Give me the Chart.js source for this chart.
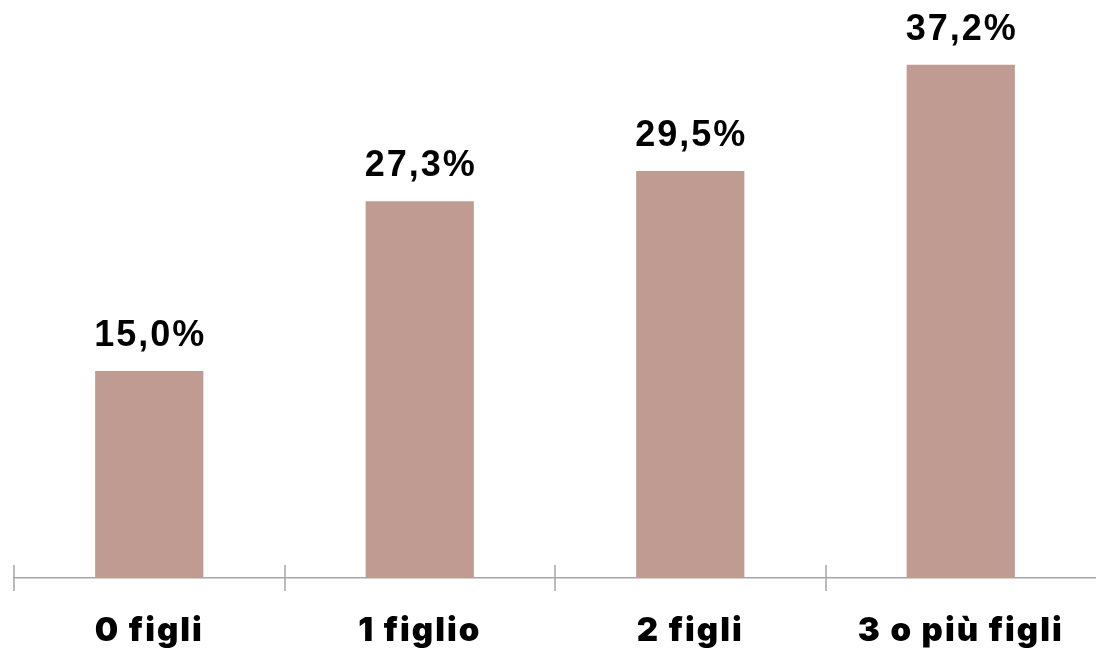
<!DOCTYPE html>
<html>
<head>
<meta charset="utf-8">
<script src="https://cdn.jsdelivr.net/npm/chart.js@4"></script>
<style>
  html, body { margin: 0; padding: 0; background: #fff; }
  #wrap { width: 1096px; height: 652px; }
</style>
</head>
<body>
<div id="wrap"><canvas id="figliChart"></canvas></div>
<script>
// Data
const categories = ['0 figli', '1 figlio', '2 figli', '3 o più figli'];
const percentValues = [15.0, 27.3, 29.5, 37.2];

// Wider letter spacing for the category labels
const spacing = {
  id: 'spacing',
  beforeDraw(chart) { chart.ctx.letterSpacing = '2px'; },
  afterDraw(chart) { chart.ctx.letterSpacing = '0px'; }
};

// Value labels above the bars
const valueLabels = {
  id: 'valueLabels',
  afterDatasetsDraw(chart) {
    const ctx = chart.ctx;
    const meta = chart.getDatasetMeta(0);
    ctx.save();
    ctx.fillStyle = '#000';
    ctx.font = 'bold 36px "Liberation Sans", Arial, sans-serif';
    ctx.letterSpacing = '2px';
    ctx.textAlign = 'center';
    ctx.textBaseline = 'alphabetic';
    meta.data.forEach((bar, i) => {
      const txt = percentValues[i].toFixed(1).replace('.', ',') + '%';
      ctx.fillText(txt, bar.x + 1, bar.y - 25);
    });
    ctx.restore();
  }
};

// Tick marks crossing the axis at category boundaries
const crossTicks = {
  id: 'crossTicks',
  afterDraw(chart) {
    const x = chart.scales.x;
    const ctx = chart.ctx;
    const half = (x.getPixelForValue(1) - x.getPixelForValue(0)) / 2;
    ctx.save();
    ctx.strokeStyle = '#a6a6a6';
    ctx.lineWidth = 1.5;
    for (let i = 0; i < categories.length; i++) {
      const px = Math.round(x.getPixelForValue(i) - half);
      ctx.beginPath();
      ctx.moveTo(px, x.top - 13);
      ctx.lineTo(px, x.top + 13);
      ctx.stroke();
    }
    ctx.restore();
  }
};

new Chart(document.getElementById('figliChart'), {
  type: 'bar',
  data: {
    labels: categories,
    datasets: [{
      data: percentValues,
      backgroundColor: '#c09b91',
      borderWidth: 0,
      categoryPercentage: 0.4,
      barPercentage: 1.0
    }]
  },
  options: {
    responsive: true,
    maintainAspectRatio: false,
    animation: false,
    plugins: {
      legend: { display: false },
      tooltip: { enabled: false }
    },
    layout: {
      padding: { left: 14, right: -2, top: 26, bottom: 0 }
    },
    scales: {
      x: {
        offset: true,
        grid: { display: false },
        border: { display: true, color: '#a6a6a6', width: 1.5 },
        ticks: {
          color: '#000',
          padding: 25,
          maxRotation: 0,
          autoSkip: false,
          font: { family: 'Inter', weight: 900, size: 33 }
        },
        afterFit(scale) { scale.height = 74; }
      },
      y: {
        display: false,
        min: 0,
        max: 40
      }
    }
  },
  plugins: [spacing, valueLabels, crossTicks]
});
</script>
</body>
</html>
